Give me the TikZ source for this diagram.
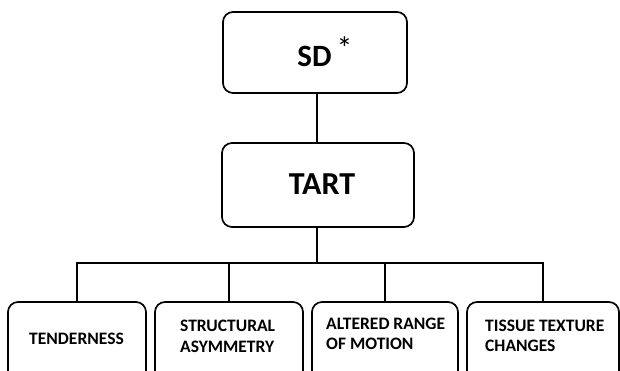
\documentclass[tikz,border=0pt]{standalone}
\usepackage{fontspec}
\setmainfont{Carlito}
\begin{document}
\begin{tikzpicture}[x=1pt,y=-1pt,
  box/.style={draw, line width=1.7pt, rounded corners=10pt, fill=white, inner sep=0pt},
  conn/.style={draw, line width=1.7pt},
  lbl/.style={font=\bfseries\fontsize{17.5}{20.5}\selectfont, align=left, anchor=west, inner sep=0pt}]
\useasboundingbox (0,0) rectangle (620,371);
\clip (0,0) rectangle (620,371);
% top boxes
\node[box, minimum width=184pt, minimum height=81pt] (sd) at (315,52.5) {};
\node[font=\bfseries\fontsize{31}{34}\selectfont, inner sep=0pt] (sdt) at (325,52) {SD\hspace{5pt}\raisebox{7pt}{\fontsize{32}{34}\mdseries *}};
\node[box, minimum width=192pt, minimum height=84pt] (tart) at (318,185) {};
\node[font=\bfseries\fontsize{32}{34}\selectfont, inner sep=0pt] (tartt) at (322,184) {TART};
% bottom boxes
\node[box, minimum width=138pt, minimum height=100pt] (b1) at (77,352) {};
\node[box, minimum width=148pt, minimum height=100pt] (b2) at (229,352) {};
\node[box, minimum width=146pt, minimum height=100pt] (b3) at (385,352) {};
\node[box, minimum width=152pt, minimum height=100pt] (b4) at (543,352) {};
\node[lbl] (t1) at (29,339) {TENDERNESS};
\node[lbl] (t2) at (180,336.5) {STRUCTURAL\\ASYMMETRY};
\node[lbl] (t3) at (326,334) {ALTERED RANGE\\OF MOTION};
\node[lbl] (t4) at (485,336) {TISSUE TEXTURE\\CHANGES};
% connectors
\coordinate (j) at (317,263);
\draw[conn] (sd.south -| j) -- (tart.north -| j);
\draw[conn] (tart.south -| j) -- (j);
\draw[conn] (b1.north) |- (j) -| (b4.north);
\draw[conn] (b2.north) -- (b2.north |- j);
\draw[conn] (b3.north) -- (b3.north |- j);
\end{tikzpicture}
\end{document}
